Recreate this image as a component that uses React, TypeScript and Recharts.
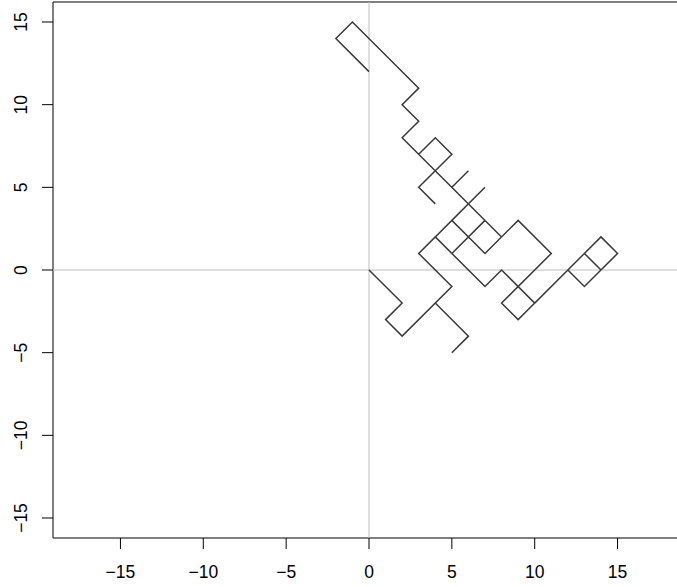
import React from "react";
import {
  LineChart,
  Line,
  XAxis,
  YAxis,
  ReferenceLine,
  ReferenceArea,
} from "recharts";

// walk, one array per unbroken stroke
const strokeA = [[0, 0], [2, -2], [1, -3], [2, -4], [5, -1], [3, 1], [4, 2], [7, -1], [8, 0], [10, -2], [12, 0], [14, 2], [15, 1], [13, -1], [12, 0]];
const strokeB = [[4, -2], [6, -4], [5, -5]];
const strokeC = [[10, -2], [9, -3], [8, -2], [11, 1], [9, 3], [7, 1], [5, 3], [4, 2]];
const strokeD = [[5, 1], [7, 3]];
const strokeE = [[0, 12], [-2, 14], [-1, 15], [3, 11], [2, 10], [3, 9], [2, 8], [8, 2]];
const strokeF = [[3, 7], [4, 8], [5, 7], [4, 6], [3, 5], [4, 4]];
const strokeG = [[6, 6], [5, 5]];
const strokeH = [[7, 5], [5, 3]];
const strokeI = [[13, 1], [14, 0]];

const strokes = [strokeA, strokeB, strokeC, strokeD, strokeE, strokeF, strokeG, strokeH, strokeI];

const xTicks = [-15, -10, -5, 0, 5, 10, 15];
const yTicks = [-15, -10, -5, 0, 5, 10, 15];
const xDomain: [number, number] = [-19.07, 19.07];
const yDomain: [number, number] = [-16.21, 16.21];

// null y between strokes breaks the line
const walkData: { x: number; y: number | null }[] = [];
strokes.forEach((s, i) => {
  if (i > 0) walkData.push({ x: s[0][0], y: null });
  s.forEach(([x, y]) => walkData.push({ x, y }));
});

const fmt = (v: number) => String(v).replace("-", "\u2212");
const FONT = "'Liberation Sans', Arial, Helvetica, sans-serif";

const XTick = (props: any) => {
  const { x, y, payload } = props;
  return (
    <text x={x} y={y} dy={29} textAnchor="middle" fontSize={17.5} fontFamily={FONT} fill="#000">
      {fmt(payload.value)}
    </text>
  );
};

const YTick = (props: any) => {
  const { x, y, payload } = props;
  const bx = x - 15;
  return (
    <text
      x={bx}
      y={y}
      textAnchor="middle"
      fontSize={17.5}
      fontFamily={FONT}
      fill="#000"
      transform={`rotate(-90, ${bx}, ${y})`}
    >
      {fmt(payload.value)}
    </text>
  );
};

export default function App() {
  return (
    <div
      style={{
        position: "absolute",
        left: 0,
        top: 0,
        width: 677,
        height: 587,
        overflow: "hidden",
        background: "#fff",
      }}
    >
      <LineChart
        width={690}
        height={587}
        data={walkData}
        margin={{ top: 2, right: 5, left: 0, bottom: 0 }}
      >
        <XAxis
          dataKey="x"
          type="number"
          domain={xDomain}
          ticks={xTicks}
          allowDataOverflow
          height={49}
          tickSize={11}
          tickMargin={0}
          axisLine={false}
          tickLine={{ stroke: "#000" }}
          tick={<XTick />}
        />
        <YAxis
          type="number"
          domain={yDomain}
          ticks={yTicks}
          allowDataOverflow
          width={53}
          tickSize={11}
          tickMargin={0}
          axisLine={false}
          tickLine={{ stroke: "#000" }}
          tick={<YTick />}
        />
        <ReferenceLine x={0} stroke="#bebebe" strokeWidth={1} />
        <ReferenceLine y={0} stroke="#bebebe" strokeWidth={1} />
        <ReferenceArea
          x1={xDomain[0]}
          x2={xDomain[1]}
          y1={yDomain[0]}
          y2={yDomain[1]}
          fill="none"
          stroke="#000"
          strokeWidth={1}
          ifOverflow="visible"
        />
        <Line
          dataKey="y"
          stroke="#3a3a3a"
          strokeWidth={1.5}
          dot={false}
          activeDot={false}
          connectNulls={false}
          isAnimationActive={false}
        />
      </LineChart>
    </div>
  );
}
